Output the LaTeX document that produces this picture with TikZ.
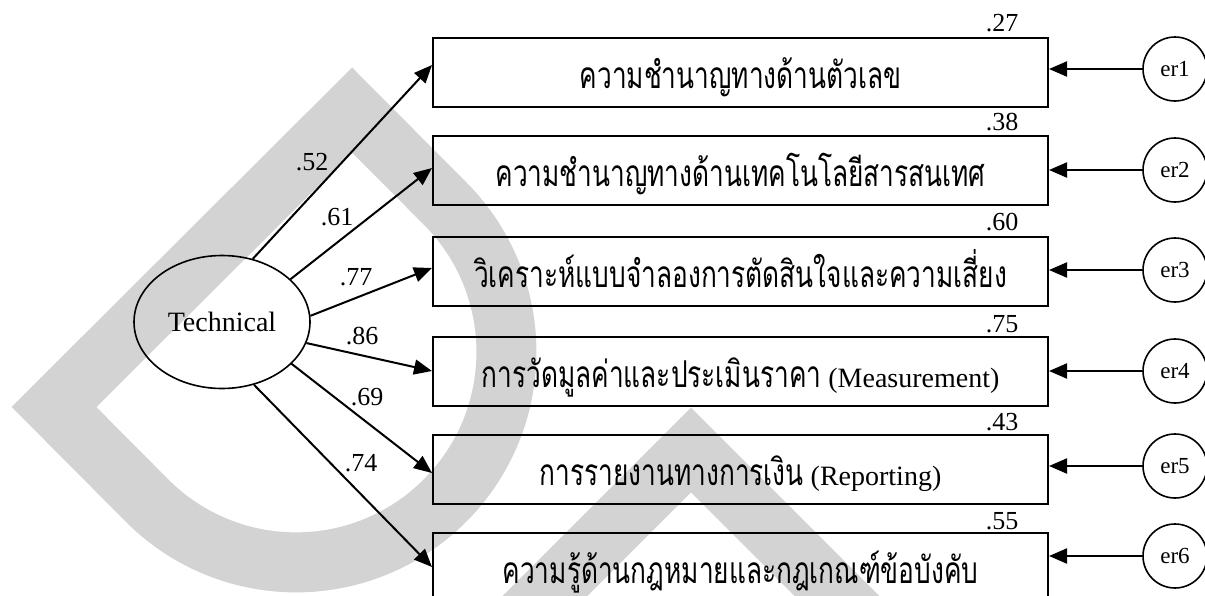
\documentclass[tikz,border=0pt]{standalone}
\usepackage{fontspec}
\setmainfont{Liberation Serif}
\newfontfamily\thai[Script=Thai,FakeStretch=0.71]{Loma}
\usetikzlibrary{arrows.meta,shapes.geometric}
\definecolor{wmgray}{RGB}{211,211,211}
\newcommand{\thtxt}[1]{{\thai\fontsize{18.5}{22}\selectfont #1}}
\begin{document}
\begin{tikzpicture}[x=0.5pt,y=-0.5pt,
  wm/.style={line width=30pt, draw=wmgray, line join=miter},
  obs/.style={draw, line width=1pt, minimum width=307.5pt, minimum height=34.5pt, inner sep=0pt,
    text height=16.5pt, text depth=0pt, font=\fontsize{14}{16}\selectfont},
  lat/.style={draw, ellipse, line width=0.8pt, minimum width=88pt, minimum height=66.5pt, inner sep=0pt,
    font=\fontsize{14}{16}\selectfont},
  err/.style={draw, circle, line width=0.8pt, minimum size=32pt, inner sep=0pt,
    font=\fontsize{11.5}{13}\selectfont},
  pth/.style={line width=1pt, -{Triangle[length=9pt,width=7.5pt]}},
  coef/.style={font=\fontsize{13}{15}\selectfont, inner sep=0pt}
]
\useasboundingbox (0,0) rectangle (1205,595);
% watermark
\draw[wm] (54,407) -- (352,110) -- (444.8,203.2) arc[start angle=-45, end angle=135, radius=210.4] -- cycle;
\draw[wm] (491,650) -- (691,450) -- (891,650);
% latent
\node[lat] (T) at (222,322) {Technical};
% observed
\node[obs] (b1) at (740.5,72) {\thtxt{ความชำนาญทางด้านตัวเลข}};
\node[obs] (b2) at (740.5,170) {\thtxt{ความชำนาญทางด้านเทคโนโลยีสารสนเทศ}};
\node[obs] (b3) at (740.5,271) {\thtxt{วิเคราะห์แบบจำลองการตัดสินใจและความเสี่ยง}};
\node[obs] (b4) at (740.5,371) {\thtxt{การวัดมูลค่าและประเมินราคา} (Measurement)};
\node[obs] (b5) at (740.5,469) {\thtxt{การรายงานทางการเงิน} (Reporting)};
\node[obs] (b6) at (740.5,567) {\thtxt{ความรู้ด้านกฎหมายและกฎเกณฑ์ข้อบังคับ}};
% R2
\node[coef] (r1) at (1002,23.5) {.27};
\node[coef] (r2) at (1002,122) {.38};
\node[coef] (r3) at (1002,222) {.60};
\node[coef] (r4) at (1002,324) {.75};
\node[coef] (r5) at (1002,422) {.43};
\node[coef] (r6) at (1002,521) {.55};
% errors
\node[err] (e1) at (1175,69) {er1};
\node[err] (e2) at (1175,170) {er2};
\node[err] (e3) at (1175,270) {er3};
\node[err] (e4) at (1175,371) {er4};
\node[err] (e5) at (1175,466) {er5};
\node[err] (e6) at (1175,556) {er6};
\foreach \i in {1,...,6} {\draw[pth] (e\i) -- (e\i -| b\i.east);}
% loadings
\draw[pth] (T.64) -- ([yshift=3.5pt]b1.west);
\draw[pth] (T.32) -- ([yshift=1pt]b2.west);
\draw[pth] (T.4) -- ([yshift=1.5pt]b3.west);
\draw[pth] (T.-14) -- (b4.west);
\draw[pth] (T.-31) -- ([yshift=-2pt]b5.west);
\draw[pth] (T.-63) -- (b6.west);
\node[coef] (l1) at (312,162) {.52};
\node[coef] (l2) at (337,217) {.61};
\node[coef] (l3) at (356,277) {.77};
\node[coef] (l4) at (362,336) {.86};
\node[coef] (l5) at (367,397) {.69};
\node[coef] (l6) at (361,463) {.74};
\end{tikzpicture}
\end{document}
